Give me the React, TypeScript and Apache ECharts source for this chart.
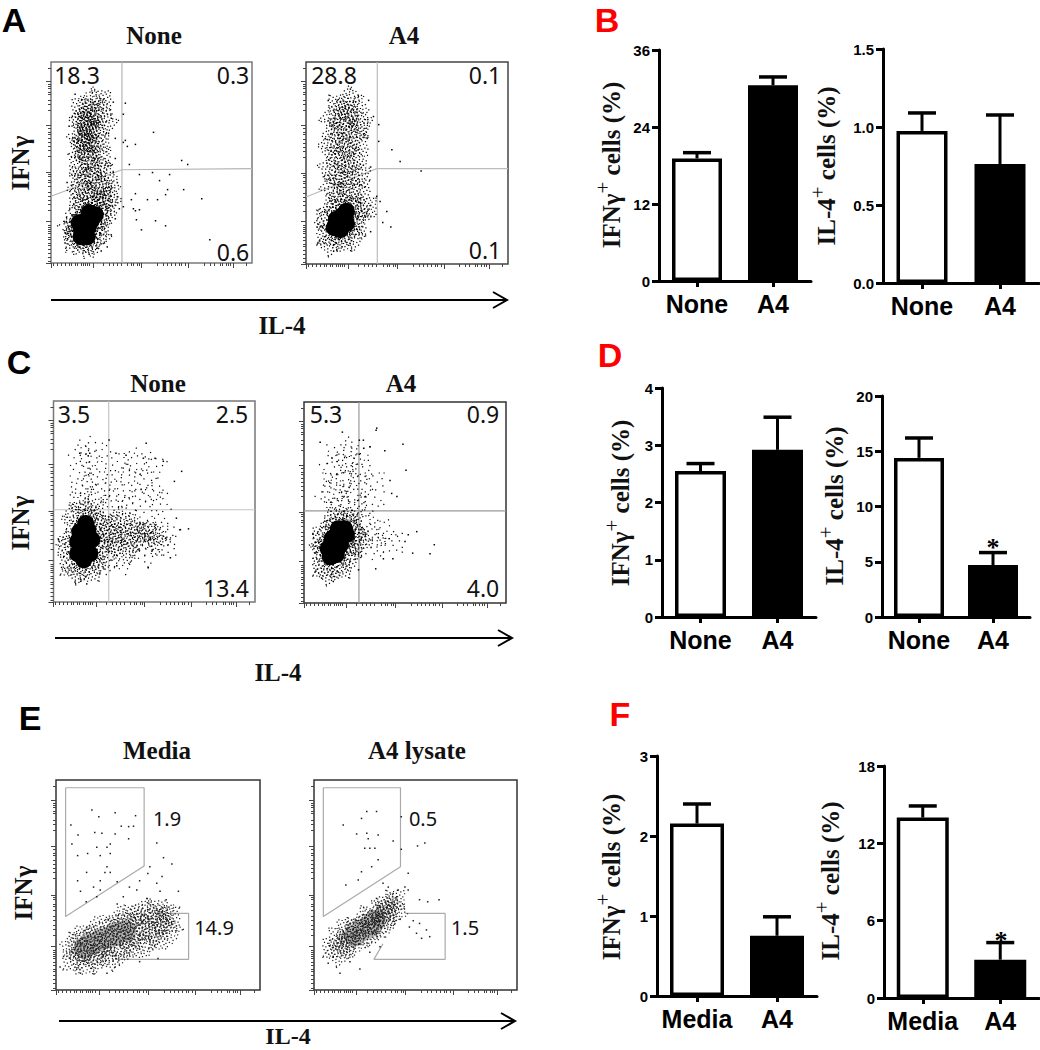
import React, { useEffect, useRef } from "react";
import * as echarts from "echarts";

// ---------- bar data ----------
const noneA4 = ["None", "A4"];
const mediaA4 = ["Media", "A4"];
const bIfn = [19.1, 30.5]; const bIfnErr = [20, 31.8];
const bIl4 = [0.975, 0.763]; const bIl4Err = [1.09, 1.077];
const dIfn = [2.55, 2.92]; const dIfnErr = [2.68, 3.49];
const dIl4 = [14.4, 4.7]; const dIl4Err = [16.2, 5.83];
const fIfn = [2.155, 0.753]; const fIfnErr = [2.4, 0.99];
const fIl4 = [14.0, 2.97]; const fIl4Err = [14.9, 4.3];

// ---------- flow axis ticks (fluorescence scale, 0-100) ----------
const majorTicks = [0, 21, 45, 68.5, 90.5];
const minorTicks = [1, 3, 5, 7, 9, 10, 12, 13, 15, 16, 17, 18, 19, 26, 29, 31, 33, 35, 38, 40, 41, 43, 44, 53, 56, 58, 60, 62, 64, 65, 67, 76, 79, 81, 84, 85, 87, 88, 89, 97];

// ---------- flow panels: [IL-4, IFNγ] ----------
const aNoneCore = [[15, 13], [18, 13], [15, 17], [18.5, 18], [17, 21], [20, 21], [19, 25], [14, 20], [22, 24]];
const aNoneCloud = [[12, 12], [13, 20], [11, 16], [20, 9], [16, 9], [24, 14], [23, 19], [26, 24], [27, 29], [22, 29], [16, 28], [29, 32], [25, 33], [20, 33], [14, 32], [24, 38], [18, 38], [28, 37], [14, 38], [21, 43], [15, 43], [27, 43], [19, 48], [24, 48], [14, 48], [18, 53], [25, 53], [15, 55], [20, 58], [17, 60], [24, 60], [14, 62], [18, 65], [17, 69], [23, 66], [15, 71], [21, 72], [27, 70], [18, 76], [24, 76], [15, 77], [20, 81], [25, 81], [17, 62], [18, 71], [16, 58], [19, 68]];
const aNoneDots = [[51, 65], [36, 60], [38, 58], [42, 59], [65, 51], [39, 49], [68, 49], [44, 44], [50.5, 45], [59, 44], [54, 41], [58, 36.5], [66, 36.5], [57, 34], [42, 34.5], [40, 31.5], [48, 31.5], [53, 31.5], [75, 32], [45, 16.5], [52, 21], [57, 18.5], [79, 11.6], [36, 28], [41, 27], [44, 26.5], [37, 79.5], [36, 74], [37, 61], [42.5, 21.5], [42, 26], [31, 45], [33, 40], [32, 52], [33, 33], [32, 62], [30, 72], [31, 80], [12, 84], [9, 68], [8, 40], [7, 15], [7, 10], [30, 14], [32, 22], [34, 27], [28, 8], [25, 6]];

const aA4Core = [[14, 18], [17, 17], [20, 20], [15, 22], [18, 24], [20, 26]];
const aA4Cloud = [[10, 14], [12, 10], [18, 11], [23, 13], [25, 19], [26, 24], [10, 22], [13, 28], [19, 30], [25, 29], [30, 28], [16, 33], [22, 35], [13, 38], [27, 37], [18, 40], [22, 44], [15, 44], [26, 45], [12, 47], [19, 50], [24, 51], [15, 53], [20, 56], [26, 58], [12, 58], [17, 60], [23, 63], [14, 65], [19, 67], [26, 67], [17, 70], [21, 73], [13, 72], [19, 76], [25, 77], [16, 79], [22, 82], [27, 70]];
const aA4Dots = [[36, 69], [42.5, 56.6], [46.6, 50.8], [57, 46], [36, 60.7], [36.7, 31], [32, 29], [40, 26], [38, 20.6], [42, 18.3], [35, 33.5], [33.4, 73], [31, 81], [22, 86.6], [11, 81], [9.5, 62], [8, 18.6], [13.7, 9.6], [32, 16], [27.7, 18.6], [30, 25], [29, 38], [32, 48]];

const cNoneCore = [[12, 24], [15, 21], [18, 24], [12, 30], [16, 29], [19, 31], [13, 35], [17, 36], [16, 39]];
const cNoneCloud = [[8, 18], [12, 15], [18, 15], [22, 20], [7, 28], [24, 27], [24, 35], [22, 41], [10, 43], [15, 46], [20, 45], [28, 32], [29, 38], [30, 28], [34, 34], [33, 41], [38, 30], [39, 38], [36, 25], [42, 33], [46, 35], [50, 32]];
const cNoneHaze = [[14, 50], [20, 52], [13, 58], [18, 60], [24, 55], [15, 67], [22, 68], [14, 74], [20, 76], [30, 50], [36, 48], [42, 52], [30, 60], [37, 62], [45, 60], [50, 55], [33, 70], [42, 70], [50, 68], [52, 48], [44, 30], [48, 36], [52, 33], [56, 35], [50, 28], [44, 38], [56, 28], [46, 24], [34, 20], [28, 20]];
const cNoneDots = [[46, 79], [27.6, 80.6], [63.6, 65], [60, 60], [54.5, 70], [67, 36.4], [63, 36], [61, 41.7], [47, 17], [58, 22], [16.5, 9], [10.7, 10], [2.5, 31], [31.4, 18], [23, 14.4], [13, 74], [18, 74], [31, 74], [36, 73], [44.6, 71.5], [50.4, 71.5]];

const cA4Core = [[13, 23], [16, 24], [12, 27], [15, 28], [18, 29], [14, 32], [18, 33], [21, 34], [17, 37], [20, 37]];
const cA4Cloud = [[9, 18], [12, 15], [18, 17], [22, 22], [24, 28], [25, 35], [24, 41], [19, 42], [14, 40], [9, 27], [9, 33], [28, 31]];
const cA4Haze = [[15, 48], [20, 48], [26, 48], [12, 54], [18, 55], [24, 54], [14, 60], [20, 62], [26, 60], [14, 67], [21, 69], [27, 65], [16, 74], [23, 76], [28, 73], [30, 42], [33, 36], [37, 30], [32, 28], [40, 35], [44, 30], [33, 50], [35, 60]];
const cA4Dots = [[36, 87], [35.7, 86], [19, 85], [49, 79], [50.5, 66], [42.6, 61], [43.4, 54.5], [46, 53], [55.8, 35.5], [51.6, 34], [50, 30.6], [64.5, 29], [62.4, 24.5], [53.8, 24.8], [35.5, 17], [39.3, 22], [44, 22], [8.7, 12.4], [14.5, 10.7], [27, 16.5], [8, 80], [40, 75.7], [32.7, 77.7], [29.4, 81], [27.4, 81], [27.4, 74]];

const eMediaCore = [[14, 20], [18, 22], [22, 24], [26, 25], [30, 27], [34, 28]];
const eMediaCloud = [[8, 14], [8, 21], [14, 12], [14, 19], [14, 26], [20, 14], [20, 21], [20, 29], [26, 15], [26, 23], [26, 31], [32, 18], [32, 26], [32, 34], [38, 20], [38, 28], [38, 36], [44, 22], [44, 30], [44, 38], [50, 24], [50, 32], [50, 38], [56, 28], [56, 35], [11, 16], [11, 23], [17, 16], [17, 24], [23, 18], [23, 26], [29, 20], [29, 29], [35, 23], [35, 32], [41, 26], [41, 34], [47, 27], [47, 35], [53, 30], [53, 36]];
const eMediaDots = [[17.6, 85.7], [21, 82.5], [29, 84.4], [39, 83], [7.3, 78.6], [32, 78], [35.6, 77.8], [38, 78], [10.8, 73.8], [19, 75], [22.5, 74.6], [29, 74.3], [35.6, 72], [7.8, 69.5], [26.6, 69.5], [20, 68], [25, 68], [10.6, 64], [15.5, 65], [21.7, 64], [26.6, 65], [15, 56], [24, 56], [25, 58.7], [26.6, 56], [10.6, 52], [21.7, 52], [30, 51.6], [18.4, 49], [12, 47], [21.7, 47.6], [14.8, 42], [20, 44.4], [49.4, 70], [46, 58.7], [52.7, 63], [56.8, 60], [52, 54], [45, 55.5], [51, 47], [60, 47], [49.4, 50.8], [39.6, 47.6], [36, 49], [41, 52], [33, 44.4], [44.5, 43.6], [54, 43], [30, 41], [2, 11], [3.7, 16], [25, 8], [29, 11], [12, 8], [41, 13.5], [50, 15]];

const eLysateCore = [[20, 26], [23, 28], [27, 30], [30, 33]];
const eLysateCloud = [[9, 20], [12, 17], [12, 25], [16, 21], [16, 29], [20, 22], [21, 30], [25, 26], [25, 34], [29, 27], [29, 35], [32, 31], [33, 38], [36, 33], [36, 40], [40, 37], [40, 43], [14, 22], [18, 26], [23, 29], [27, 31], [31, 34], [35, 37], [38, 40]];
const eLysateDots = [[48.9, 33], [52, 31.7], [55.4, 28.6], [57, 25.4], [47, 30], [50.5, 27], [53, 24.6], [52, 43], [56, 42], [61.6, 43], [46.4, 47.6], [44.8, 49], [46.4, 55.6], [26, 85], [30.8, 85], [23.4, 81.7], [14.4, 78.6], [43, 82.5], [26, 74.6], [31.6, 73.8], [21, 74.3], [26.7, 72], [39, 71], [25, 67.5], [27.5, 67.5], [30, 67.5], [43, 67], [51, 68.6], [54.6, 70], [31.6, 62], [28.4, 58.7], [23.4, 56.3], [21.8, 52.4], [15.7, 50], [34, 50.8], [36.6, 49], [39, 46], [41.5, 47.6], [30.8, 43.6], [7, 12.7], [12.8, 8], [22.6, 10], [9.5, 16], [17.7, 13.5], [27.5, 18], [32.5, 20.6]];

// gates and quadrant lines
const aNoneQuadV = [[35.3, 0], [35.3, 100]];
const aNoneQuadH = [[0, 33.2], [35.3, 46.4], [100, 47]];
const aA4QuadV = [[35.3, 0], [35.3, 100]];
const aA4QuadH = [[0, 33.2], [35, 47.2], [100, 47.2]];
const cNoneQuadV = [[27.4, 0], [27.4, 100]];
const cNoneQuadH = [[0, 45.9], [100, 45.9]];
const cA4QuadV = [[27.2, 0], [27.2, 100]];
const cA4QuadH = [[0, 45.8], [100, 45.8]];
const eMediaGateTop = [[4.7, 96.3], [43.2, 96.3], [43.2, 59], [4.7, 35], [4.7, 96.3]];
const eMediaGateLow = [[30, 14.6], [65, 14.6], [65, 36.5], [50, 36.5]];
const eLysateGateTop = [[4.6, 96.3], [42.6, 96.3], [42.6, 58.7], [4.6, 35], [4.6, 96.3]];
const eLysateGateLow = [[44.8, 36.5], [64.6, 36.5], [64.6, 14.6], [29.5, 14.6], [34, 22]];

// stipple symbols: each read point stands for a little tuft of events
const square = (s: number) => ([x, y]: number[]) => `M${x} ${y}h${s}v${s}h-${s}z`;
const denseCell = [[2, 4], [17, 0], [33, 9], [48, 3], [66, 11], [81, 2], [93, 14], [8, 19], [24, 24], [41, 18], [57, 27], [74, 21], [90, 31], [0, 36], [15, 41], [31, 35], [47, 44], [63, 38], [79, 46], [93, 50], [6, 55], [22, 60], [38, 53], [54, 62], [70, 56], [86, 66], [12, 73], [29, 77], [44, 70], [60, 79], [76, 72], [93, 82], [3, 88], [20, 93], [37, 87], [52, 94], [68, 90], [84, 93], [93, 0], [0, 94]];
const hazeCell = [[0, 0], [62, 8], [94, 0], [28, 27], [80, 38], [10, 52], [48, 60], [94, 70], [30, 88], [0, 94], [94, 94], [66, 84], [40, 6], [8, 26]];
const DENSE = "path://" + denseCell.map(square(6)).join("");
const HAZE = "path://" + hazeCell.map(square(6)).join("");
const FRINGE = "path://" + denseCell.map(square(3.6)).join("");
const turns = [0, 37, 90, 143, 180, 217, 270, 323, 61, 119];
const turn = (_: any, p: any) => turns[p.dataIndex % turns.length];

type Flow = { box: number[]; core: number[][]; cloud: number[][]; haze?: number[][]; dots: number[][]; lines: number[][][]; coreColor: string; border: string; lineColor: string };
const flows: Flow[] = [
  { box: [51, 62, 201, 201], core: aNoneCore, cloud: aNoneCloud, dots: aNoneDots, lines: [aNoneQuadV, aNoneQuadH], coreColor: "#000", border: "#7a7a7a", lineColor: "#b5b5b5" },
  { box: [306, 62, 202, 202], core: aA4Core, cloud: aA4Cloud, dots: aA4Dots, lines: [aA4QuadV, aA4QuadH], coreColor: "#000", border: "#444", lineColor: "#bdbdbd" },
  { box: [53.5, 401, 201.5, 201], core: cNoneCore, cloud: cNoneCloud, haze: cNoneHaze, dots: cNoneDots, lines: [cNoneQuadV, cNoneQuadH], coreColor: "#000", border: "#777", lineColor: "#c4c4c4" },
  { box: [304, 402, 202, 201], core: cA4Core, cloud: cA4Cloud, haze: cA4Haze, dots: cA4Dots, lines: [cA4QuadV, cA4QuadH], coreColor: "#000", border: "#333", lineColor: "#999" },
  { box: [56, 780, 204, 210], core: eMediaCore, cloud: eMediaCloud, dots: eMediaDots, lines: [eMediaGateTop, eMediaGateLow], coreColor: "#b4b4b4", border: "#333", lineColor: "#aaa" },
  { box: [314, 780, 203, 210], core: eLysateCore, cloud: eLysateCloud, dots: eLysateDots, lines: [eLysateGateTop, eLysateGateLow], coreColor: "#b4b4b4", border: "#333", lineColor: "#aaa" },
];

type Bar = { box: number[]; cats: string[]; vals: number[]; errs: number[]; max: number; interval: number; digits: number; barW: number };
const bars: Bar[] = [
  { box: [659, 50, 152, 231], cats: noneA4, vals: bIfn, errs: bIfnErr, max: 36, interval: 12, digits: 0, barW: 50 },
  { box: [883, 49, 156, 234], cats: noneA4, vals: bIl4, errs: bIl4Err, max: 1.5, interval: 0.5, digits: 1, barW: 51 },
  { box: [662, 388, 154, 229], cats: noneA4, vals: dIfn, errs: dIfnErr, max: 4, interval: 1, digits: 0, barW: 51 },
  { box: [882, 396, 148, 221], cats: noneA4, vals: dIl4, errs: dIl4Err, max: 20, interval: 5, digits: 0, barW: 50 },
  { box: [657, 756, 160, 240], cats: mediaA4, vals: fIfn, errs: fIfnErr, max: 3, interval: 1, digits: 0, barW: 54 },
  { box: [884, 766, 155, 232], cats: mediaA4, vals: fIl4, errs: fIl4Err, max: 18, interval: 6, digits: 0, barW: 52 },
];

const SERIF = "'Liberation Serif', serif";
const SANS = "'Liberation Sans', sans-serif";
const NUM = "'Noto Sans', sans-serif";

const txt = (text: string, x: number, y: number, font: any, extra: any = {}) => ({
  type: "text", x, y, silent: true, ...extra,
  style: { text, align: "center", verticalAlign: "middle", fill: "#000", ...font },
});
const letter = (t: string, x: number, y: number, c: string) => txt(t, x, y, { fontFamily: SANS, fontWeight: "bold", fontSize: 34, fill: c });
const head = (t: string, x: number, y: number, s = 25) => txt(t, x, y, { fontFamily: SERIF, fontWeight: "bold", fontSize: s, fill: "#111" });
const num = (t: string, x: number, y: number, s = 23) => txt(t, x, y, { fontFamily: NUM, fontSize: s, fill: "#111" });
const ifn = (x: number, y: number) => txt("IFNγ", x, y, { fontFamily: SERIF, fontWeight: "bold", fontSize: 25, fill: "#111" }, { rotation: Math.PI / 2 });
const yTitle = (lead: string, x: number, y: number) => ({
  type: "text", x, y, rotation: Math.PI / 2, silent: true,
  style: {
    text: `{a|${lead}}{s|+}{a| cells (%)}`, align: "center", verticalAlign: "middle",
    rich: {
      a: { fontFamily: SERIF, fontWeight: "bold", fontSize: 25, fill: "#111", lineHeight: 30 },
      s: { fontFamily: SERIF, fontSize: 21, fill: "#111", lineHeight: 30, padding: [0, 0, 16, 0] },
    },
  },
});
const arrow = (x0: number, x1: number, y: number) => [
  { type: "line", silent: true, shape: { x1: x0, y1: y, x2: x1, y2: y }, style: { stroke: "#000", lineWidth: 2 } },
  { type: "polyline", silent: true, shape: { points: [[x1 - 14, y - 8], [x1, y], [x1 - 14, y + 8]] }, style: { stroke: "#000", lineWidth: 2, fill: "none" } },
];

function buildOption() {
  const grid: any[] = [], xAxis: any[] = [], yAxis: any[] = [], series: any[] = [];
  const noLabel = { show: false };

  flows.forEach((f) => {
    const g = grid.length;
    grid.push({ left: f.box[0], top: f.box[1], width: f.box[2], height: f.box[3], show: true, borderColor: f.border, borderWidth: 1.5, backgroundColor: "#fff" });
    const xi = xAxis.length, yi = yAxis.length;
    [minorTicks, majorTicks].forEach((ticks, k) => {
      const tick = { show: true, customValues: ticks, length: k ? 5 : 3, inside: false, lineStyle: { color: "#444", width: 1 } };
      xAxis.push({ type: "value", gridIndex: g, min: 0, max: 100, position: "bottom", axisLine: { show: false }, splitLine: { show: false }, axisLabel: noLabel, axisTick: tick });
      yAxis.push({ type: "value", gridIndex: g, min: 0, max: 100, position: "left", axisLine: { show: false }, splitLine: { show: false }, axisLabel: noLabel, axisTick: tick });
    });
    f.lines.forEach((l) =>
      series.push({ type: "line", xAxisIndex: xi, yAxisIndex: yi, data: l, symbol: "none", silent: true, z: 1, lineStyle: { color: f.lineColor, width: 1.2 } })
    );
    const scatter = (data: number[][], symbol: string, size: number, color: string, z: number, rotate?: any) =>
      series.push({ type: "scatter", xAxisIndex: xi, yAxisIndex: yi, data, symbol, symbolSize: size, symbolRotate: rotate, silent: true, z, itemStyle: { color, opacity: 1 } });
    const solid = f.coreColor === "#000";
    const ink = solid ? "#000" : "#1c1c1c";
    scatter(f.core, "circle", solid ? 17 : 22, f.coreColor, solid ? 5 : 2);
    if (solid) scatter(f.core, FRINGE, 32, ink, 4, turn);
    scatter(f.cloud, DENSE, 20, ink, 3, turn);
    if (f.haze) scatter(f.haze, HAZE, 20, ink, 3, turn);
    scatter(f.dots, "rect", 1.5, ink, 4);
  });

  bars.forEach((b) => {
    const g = grid.length;
    grid.push({ left: b.box[0], top: b.box[1], width: b.box[2], height: b.box[3] });
    const xi = xAxis.length, yi = yAxis.length;
    xAxis.push({
      type: "category", gridIndex: g, data: b.cats,
      axisLine: { show: true, lineStyle: { color: "#000", width: 3 } },
      axisTick: { show: true, alignWithLabel: true, length: 6, lineStyle: { color: "#000", width: 3 } },
      axisLabel: { fontFamily: SANS, fontWeight: "bold", fontSize: 25, color: "#000", margin: 10, interval: 0 },
      splitLine: { show: false },
    });
    yAxis.push({
      type: "value", gridIndex: g, min: 0, max: b.max, interval: b.interval,
      axisLine: { show: true, lineStyle: { color: "#000", width: 3 } },
      axisTick: { show: true, length: 7, lineStyle: { color: "#000", width: 3 } },
      axisLabel: { fontFamily: SANS, fontWeight: "bold", fontSize: 15, color: "#000", margin: 9, formatter: (v: number) => v.toFixed(b.digits) },
      splitLine: { show: false },
    });
    series.push({
      type: "custom", xAxisIndex: xi, yAxisIndex: yi, silent: true, z: 2, clip: false,
      encode: { x: 0, y: [1, 2] },
      data: b.vals.map((v, i) => [i, v, b.errs[i]]),
      renderItem: (_: any, api: any) => {
        const base = api.coord([api.value(0), api.value(1)]);
        const top = api.coord([api.value(0), api.value(2)]);
        const st = { stroke: "#000", lineWidth: 3 };
        return {
          type: "group",
          children: [
            { type: "line", shape: { x1: base[0], y1: base[1], x2: top[0], y2: top[1] }, style: st },
            { type: "line", shape: { x1: top[0] - 14, y1: top[1], x2: top[0] + 14, y2: top[1] }, style: { ...st, lineWidth: 3.5 } },
          ],
        };
      },
    });
    series.push({
      type: "bar", xAxisIndex: xi, yAxisIndex: yi, silent: true, z: 3, barWidth: b.barW,
      data: b.vals.map((v, i) => ({ value: v, itemStyle: { color: i ? "#000" : "#fff", borderColor: "#000", borderWidth: 3.5 } })),
    });
  });

  const graphic = [
    letter("A", 14, 20, "#000"), letter("B", 607, 20, "#f00"), letter("C", 19, 362, "#000"),
    letter("D", 610, 355, "#f00"), letter("E", 30, 718, "#000"), letter("F", 620, 714, "#f00"),
    head("None", 154, 35), head("A4", 404, 35), head("None", 158, 383), head("A4", 401, 383),
    head("Media", 157, 750), head("A4 lysate", 417, 750),
    head("IL-4", 282, 325), head("IL-4", 278, 672), head("IL-4", 288, 1036, 24),
    ifn(20, 163), ifn(20, 523), ifn(23, 893),
    num("18.3", 77, 75), num("0.3", 233, 75), num("0.6", 233, 252),
    num("28.8", 334, 75), num("0.1", 485, 75), num("0.1", 485, 250),
    num("3.5", 74, 414), num("2.5", 232, 414), num("13.4", 226, 588),
    num("5.3", 326, 414), num("0.9", 483, 414), num("4.0", 483, 588),
    num("1.9", 167, 818, 20), num("14.9", 214, 927, 20), num("0.5", 423, 818, 20), num("1.5", 465, 927, 20),
    yTitle("IFNγ", 611, 165), yTitle("IL-4", 826, 166), yTitle("IFNγ", 620, 503),
    yTitle("IL-4", 834, 506), yTitle("IFNγ", 611, 877), yTitle("IL-4", 830, 881),
    txt("*", 993, 547, { fontFamily: SERIF, fontWeight: "bold", fontSize: 26 }),
    txt("*", 1001, 940, { fontFamily: SERIF, fontWeight: "bold", fontSize: 26 }),
    ...arrow(51, 507, 300), ...arrow(55, 512, 638), ...arrow(59, 515, 1021),
  ];

  return { animation: false, backgroundColor: "#fff", grid, xAxis, yAxis, series, graphic };
}

export default function App() {
  const ref = useRef<HTMLDivElement>(null);
  useEffect(() => {
    const chart = echarts.init(ref.current!, undefined, { renderer: "svg" });
    chart.setOption(buildOption() as any);
    return () => chart.dispose();
  }, []);
  return <div ref={ref} style={{ position: "absolute", left: 0, top: 0, width: 1040, height: 1050 }} />;
}
